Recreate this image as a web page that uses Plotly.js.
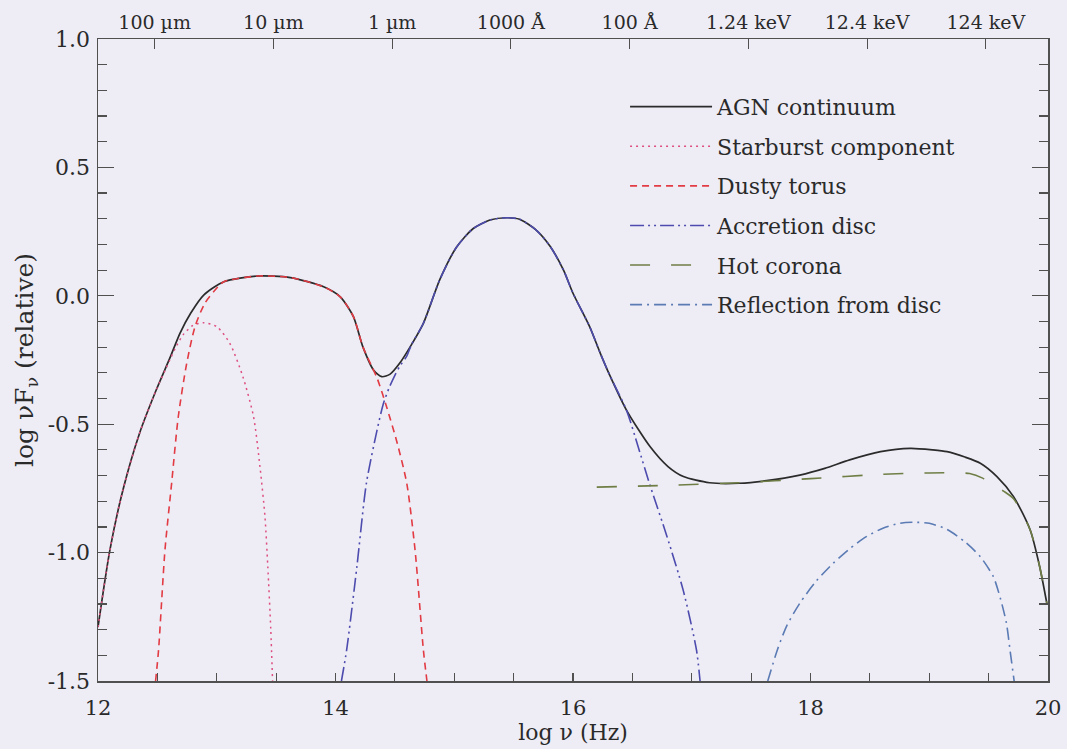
<!DOCTYPE html>
<html><head><meta charset="utf-8">
<script src="https://cdn.plot.ly/plotly-3.0.1.min.js"></script>
<style>html,body{margin:0;padding:0;background:#eeedf6;}</style>
</head><body><div id="chart" style="width:1067px;height:749px;"></div>
<script>
// ---- data (log nu [Hz], log nuF_nu relative) ----
const agnX = [12.00, 12.10, 12.21, 12.35, 12.49, 12.61, 12.69, 12.78, 12.89, 13.06, 13.34, 13.62, 13.90, 14.04, 14.15, 14.23, 14.32, 14.39, 14.46, 14.54, 14.64, 14.74, 14.88, 15.02, 15.16, 15.30, 15.44, 15.55, 15.69, 15.81, 15.92, 16.00, 16.14, 16.23, 16.31, 16.45, 16.65, 16.80, 16.93, 17.15, 17.40, 17.63, 17.91, 18.12, 18.33, 18.59, 18.84, 19.03, 19.15, 19.30, 19.43, 19.57, 19.71, 19.85, 19.93, 19.99];
const agnY = [-1.29, -0.99, -0.756, -0.535, -0.367, -0.237, -0.146, -0.068, 0.003, 0.055, 0.077, 0.071, 0.035, -0.004, -0.08, -0.198, -0.289, -0.315, -0.305, -0.263, -0.19, -0.107, 0.065, 0.19, 0.262, 0.295, 0.304, 0.298, 0.256, 0.191, 0.10, 0.01, -0.12, -0.224, -0.31, -0.445, -0.588, -0.665, -0.704, -0.728, -0.73, -0.72, -0.698, -0.672, -0.639, -0.607, -0.594, -0.60, -0.607, -0.628, -0.652, -0.704, -0.782, -0.912, -1.055, -1.197];

const starX = [12.00, 12.10, 12.21, 12.35, 12.49, 12.60, 12.65, 12.72, 12.80, 12.887, 13.00, 13.11, 13.22, 13.31, 13.364, 13.406, 13.43, 13.455, 13.47];
const starY = [-1.29, -0.99, -0.756, -0.535, -0.367, -0.255, -0.205, -0.15, -0.115, -0.105, -0.12, -0.185, -0.315, -0.471, -0.666, -0.86, -1.055, -1.30, -1.5];

const torusX = [12.485, 12.51, 12.564, 12.62, 12.676, 12.747, 12.817, 12.90, 13.01, 13.06, 13.34, 13.62, 13.90, 14.04, 14.15, 14.23, 14.30, 14.35, 14.43, 14.52, 14.60, 14.67, 14.74, 14.77];
const torusY = [-1.5, -1.379, -0.99, -0.73, -0.471, -0.263, -0.12, -0.029, 0.035, 0.055, 0.077, 0.071, 0.035, -0.004, -0.08, -0.198, -0.27, -0.32, -0.432, -0.574, -0.73, -0.99, -1.379, -1.5];

const discX = [14.05, 14.094, 14.18, 14.26, 14.35, 14.40, 14.45, 14.50, 14.54, 14.60, 14.64, 14.74, 14.88, 15.02, 15.16, 15.30, 15.44, 15.55, 15.69, 15.81, 15.92, 16.00, 16.14, 16.23, 16.31, 16.45, 16.55, 16.65, 16.79, 16.93, 17.04, 17.07];
const discY = [-1.5, -1.379, -1.055, -0.73, -0.523, -0.425, -0.36, -0.31, -0.275, -0.235, -0.19, -0.107, 0.065, 0.19, 0.262, 0.295, 0.304, 0.298, 0.256, 0.191, 0.10, 0.01, -0.12, -0.224, -0.31, -0.445, -0.59, -0.74, -0.935, -1.15, -1.38, -1.5];

const coronaX = [16.20, 16.80, 17.40, 18.00, 18.60, 19.00, 19.34, 19.45, 19.55, 19.64, 19.71, 19.85, 19.93, 19.99];
const coronaY = [-0.745, -0.738, -0.728, -0.712, -0.695, -0.69, -0.692, -0.71, -0.74, -0.765, -0.79, -0.912, -1.055, -1.197];

const reflX = [17.64, 17.72, 17.80, 17.91, 18.05, 18.19, 18.33, 18.47, 18.61, 18.75, 18.87, 19.00, 19.15, 19.30, 19.43, 19.54, 19.60, 19.65, 19.68, 19.71, 19.715];
const reflY = [-1.5, -1.38, -1.285, -1.197, -1.11, -1.042, -0.985, -0.938, -0.905, -0.886, -0.882, -0.886, -0.91, -0.958, -1.016, -1.094, -1.18, -1.275, -1.379, -1.483, -1.5];

const seriesNames = ['AGN continuum', 'Starburst component', 'Dusty torus', 'Accretion disc', 'Hot corona', 'Reflection from disc'];

const bottomTickVals = [12, 14, 16, 18, 20];
const bottomTickText = ['12', '14', '16', '18', '20'];
const topTickVals = [12.477, 13.477, 14.477, 15.477, 16.477, 17.477, 18.477, 19.477];
const topTickText = ['100 \u00b5m', '10 \u00b5m', '1 \u00b5m', '1000 \u00c5', '100 \u00c5', '1.24 keV', '12.4 keV', '124 keV'];
const yTickVals = [-1.5, -1.0, -0.5, 0.0, 0.5, 1.0];
const yTickText = ['-1.5', '-1.0', '-0.5', '0.0', '0.5', '1.0'];

// ---- styling ----
const FONT = 'DejaVu Serif, Liberation Serif, serif';
const BG = '#eeedf6';
const AX = '#505050';
const TXT = '#2a2a2a';

function tr(x, y, name, color, dash, width, group) {
  return {
    type: 'scatter', mode: 'lines', x: x, y: y, name: name,
    legendgroup: group, hoverinfo: 'skip',
    line: {color: color, dash: dash, width: width, shape: 'spline', smoothing: 0.7}
  };
}

const data = [
  tr(agnX, agnY, seriesNames[0], '#2b2b2b', 'solid', 1.7, 'g1'),
  tr(starX, starY, seriesNames[1], '#de4f7f', '2px,4px', 1.5, 'g2'),
  tr(torusX, torusY, seriesNames[2], '#e23b43', '7px,5px', 1.6, 'g3'),
  tr(discX, discY, seriesNames[3], '#4d4cae', '14px,4px,2px,4px,2px,4px', 1.6, 'g4'),
  tr(coronaX, coronaY, seriesNames[4], '#6f7e45', '20px,21px', 1.6, 'g5'),
  tr(reflX, reflY, seriesNames[5], '#5b7bb4', '12px,5px,2px,5px', 1.6, 'g6'),
  // anchors the top (wavelength / energy) axis
  {type: 'scatter', mode: 'lines', x: [], y: [], xaxis: 'x2', yaxis: 'y', showlegend: false, hoverinfo: 'skip'}
];

const layout = {
  width: 1067, height: 749,
  margin: {l: 98, r: 19, t: 39, b: 68, pad: 0},
  paper_bgcolor: BG, plot_bgcolor: BG,
  font: {family: FONT, size: 19, color: TXT},
  showlegend: true,
  legend: {
    x: 0.5548, y: 0.927, xanchor: 'left', yanchor: 'top',
    bgcolor: 'rgba(0,0,0,0)', borderwidth: 0,
    font: {family: FONT, size: 22, color: TXT},
    itemwidth: 82, tracegroupgap: 8, traceorder: 'grouped'
  },
  xaxis: {
    range: [12, 20], showgrid: false, zeroline: false,
    showline: true, linecolor: AX, linewidth: 1.5, mirror: false,
    tickmode: 'array', tickvals: bottomTickVals, ticktext: bottomTickText,
    ticks: 'inside', ticklen: 8, tickcolor: AX, tickwidth: 1.2,
    minor: {dtick: 0.5, tick0: 12, ticks: 'inside', ticklen: 8, tickcolor: AX, tickwidth: 1.2, showgrid: false},
    tickfont: {family: FONT, size: 21, color: TXT},
    ticklabelstandoff: 7,
    title: {text: 'log \u03bd (Hz)', font: {family: FONT, size: 22, color: TXT}, standoff: 2}
  },
  xaxis2: {
    overlaying: 'x', side: 'top', anchor: 'y', range: [12, 20],
    showgrid: false, zeroline: false,
    showline: true, linecolor: AX, linewidth: 1.5,
    tickmode: 'array', tickvals: topTickVals, ticktext: topTickText,
    ticks: 'inside', ticklen: 10, tickcolor: AX, tickwidth: 1.2,
    tickfont: {family: FONT, size: 19, color: TXT},
    ticklabelstandoff: 1
  },
  yaxis: {
    range: [-1.5, 1.0], showgrid: false, zeroline: false,
    showline: true, linecolor: AX, linewidth: 1.5, mirror: 'ticks',
    tickmode: 'array', tickvals: yTickVals, ticktext: yTickText,
    ticks: 'inside', ticklen: 16, tickcolor: AX, tickwidth: 1.2,
    minor: {dtick: 0.1, tick0: -1.5, ticks: 'inside', ticklen: 9, tickcolor: AX, tickwidth: 1.2, showgrid: false},
    tickfont: {family: FONT, size: 22, color: TXT},
    ticklabelstandoff: 2,
    title: {text: 'log \u03bdF<sub>\u03bd</sub> (relative)', font: {family: FONT, size: 25, color: TXT}, standoff: 7}
  }
};

Plotly.newPlot('chart', data, layout, {displayModeBar: false, staticPlot: true});
</script></body></html>
